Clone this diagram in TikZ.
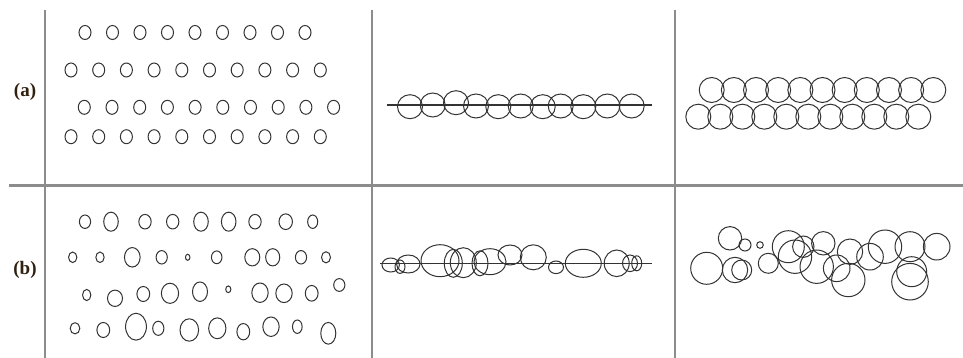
\documentclass[tikz,border=0pt]{standalone}
\usepackage{fontspec}
\setmainfont{Liberation Serif}
\begin{document}
\begin{tikzpicture}[x=1pt,y=-1pt,
  grid/.style={draw=black!45,line width=2.6pt},
  ring/.style={draw=black!80,line width=1pt},
  panellabel/.style={text=black!75!brown,inner sep=0pt}]
\useasboundingbox[fill=white] (0,0) rectangle (963,358);
% grid lines
\draw[grid] (45,10) -- (45,358);
\draw[grid] (372,10) -- (372,358);
\draw[grid] (675,10) -- (675,358);
\draw[grid] (9,185.7) -- (963,185.7);
% labels
\node[panellabel] (la) at (25,92) {\fontsize{19}{22}\selectfont\bfseries (a)};
\node[panellabel] (lb) at (25,270) {\fontsize{19}{22}\selectfont\bfseries (b)};
% (a) left: regular grid
\foreach \i in {0,...,8} \draw[ring] (85+27.5*\i,32.5) ellipse [x radius=6pt,y radius=7pt];
\foreach \i in {0,...,9} \draw[ring] (71+27.7*\i,70) ellipse [x radius=6pt,y radius=7pt];
\foreach \i in {0,...,9} \draw[ring] (84.3+27.7*\i,107.3) ellipse [x radius=6pt,y radius=7pt];
\foreach \i in {0,...,9} \draw[ring] (71+27.7*\i,136.7) ellipse [x radius=6pt,y radius=7pt];
% (b) left: irregular sizes
\foreach \x/\y/\a/\b in {85/221.7/5/6, 111/221.7/6.5/8.5, 145/221.7/5.5/6.5, 172.7/221.7/5.5/6.5, 201/221.7/6.5/8.5, 228.7/221.7/6.5/8.5, 255/221.7/5.5/6.5, 285.7/221.7/6/7, 312.7/221.7/4.5/6,
  72.7/257.3/3.7/4.7, 100/257.3/3.7/4.7, 132.3/257.3/7/8.7, 161.7/257.3/5/6, 187.7/257.3/2/2.7, 216.7/257.3/4.7/5.7, 252.3/257.3/6.7/7.7, 272.7/257.3/6.3/7.7, 301/257.3/5/6, 326/257.3/4/5,
  86.7/295/3.7/5, 115/298.3/6.7/7.3, 143.3/294/5.7/6.7, 170/293.3/7.7/9, 200/291.7/6.7/8.7, 228.3/289.3/2.3/3, 260/292.7/7.3/8.7, 284/293.3/7.3/8.3, 311.7/293.3/5.7/7, 339.3/285/5/5.7,
  75/328.3/4.3/5, 103.3/330/5.7/6.7, 136/326.7/9.3/12, 158.3/328.3/5/6.3, 189.3/330/8.3/10, 217.3/328.3/7.7/9.3, 243.3/331.7/5.7/7.3, 271/326.7/7.3/8.7, 297.3/326.7/4.3/6, 328.3/333.3/6.7/9.7}
  \draw[ring] (\x,\y) ellipse [x radius=1.12*\a pt,y radius=1.12*\b pt];
% (a) middle
\draw[ring,line width=1.2pt] (386.7,105) -- (651.7,105);
\foreach \x/\y in {410/106.7, 432.7/105, 456/102.7, 476/106, 498.3/106.7, 520.7/106, 542.7/106.7, 560.7/106, 583.3/106.7, 607.3/106, 631.7/106}
  \draw[ring] (\x,\y) ellipse [x radius=12.5pt,y radius=12pt];
% (b) middle
\draw[ring,line width=1.2pt] (380,263.3) -- (651.7,263.3);
\foreach \x/\y/\a/\b in {390.7/265/8.7/7, 400/266.7/5/6.7, 408.3/264/11.7/9, 440/260.7/19/16, 453.3/263.3/9/14, 463.3/262.7/13/15, 480/263.3/8/12.5, 490/261.7/16/13, 510/255/12/10, 533.3/257.3/13/12.5, 556/267.3/7.5/6.3, 583.3/263.3/18/14, 616.7/263.3/12.5/13.3, 630/263.3/7.5/8.3, 636.7/263.3/5/7.5}
  \draw[ring] (\x,\y) ellipse [x radius=\a pt,y radius=\b pt];
% (a) right
\foreach \i in {0,...,10} \draw[ring] (711.7+22.16*\i,90) circle [radius=12.5pt];
\foreach \i in {0,...,10} \draw[ring] (698.3+22*\i,116.7) circle [radius=12.5pt];
% (b) right
\foreach \x/\y/\r in {706.7/268.3/16, 730/238.3/11.7, 735/270/12.7, 741.7/270/10, 745/245/6, 760/245/3.3, 768.3/263.3/10, 788.3/246.7/16, 795/256.7/16.7, 803.3/246.7/10.7, 823.3/243.3/11.7, 816.7/266.7/16.7, 836.7/268.3/13.3, 850/251.7/12.7, 848.3/280/16.7, 870/256.7/13.3, 885/246.7/16.7, 910/246.7/15, 936.7/246.7/13.3, 910/281.7/18.3, 911.7/271.7/15}
  \draw[ring] (\x,\y) circle [radius=\r pt];
\end{tikzpicture}
\end{document}
